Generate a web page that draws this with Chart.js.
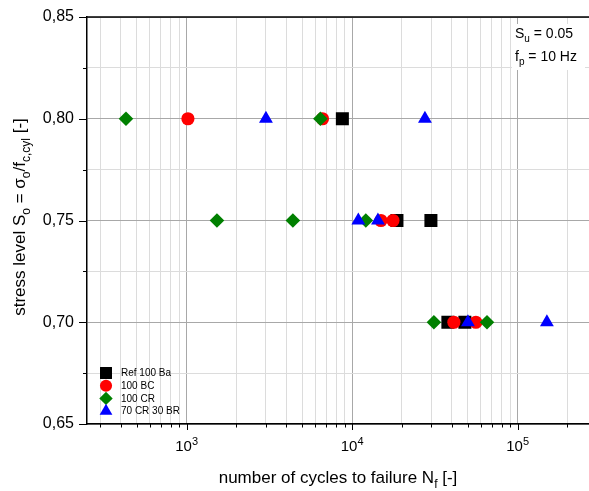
<!DOCTYPE html>
<html><head><meta charset="utf-8">
<script src="https://cdn.jsdelivr.net/npm/chart.js@4/dist/chart.umd.min.js"></script>
<style>html,body{margin:0;padding:0;background:#fff;overflow:hidden}</style>
</head><body>
<canvas id="c" width="589" height="491"></canvas>
<script>
// ---- data ----
const seriesNames = ['Ref 100 Ba', '100 BC', '100 CR', '70 CR 30 BR'];
const refBaCycles = [8730, 18660, 29930, 37900, 48000];
const refBaStress = [0.80, 0.75, 0.75, 0.70, 0.70];
const bcCycles = [1018, 6620, 14930, 17650, 41200, 55930];
const bcStress = [0.80, 0.80, 0.75, 0.75, 0.70, 0.70];
const crCycles = [430, 6430, 1525, 4385, 12100, 31200, 65300];
const crStress = [0.80, 0.80, 0.75, 0.75, 0.75, 0.70, 0.70];
const crbrCycles = [3015, 27540, 10900, 14320, 50100, 150300];
const crbrStress = [0.80, 0.80, 0.75, 0.75, 0.70, 0.70];

// ---- axes ----
const xGridValues = [300,400,500,600,700,800,900,1000,2000,3000,4000,5000,6000,7000,8000,9000,
  10000,20000,30000,40000,50000,60000,70000,80000,90000,100000,200000];
const xMajorValues = [1000, 10000, 100000];
const xMajorExponents = ['3', '4', '5'];
const yGridValues = [0.65,0.675,0.70,0.725,0.75,0.775,0.80,0.825,0.85];
const yTickLabels = ['0,65','','0,70','','0,75','','0,80','','0,85'];

const FONT = "Arial, 'Liberation Sans', sans-serif";
const colors = ['#000000', '#ff0000', '#008000', '#0000ff'];
const styles = ['rect', 'circle', 'rectRot', 'triangle'];
const radii = [9.2, 6.6, 7.3, 8];

function pts(xs, ys) { return xs.map((x, i) => ({x: x, y: ys[i]})); }
const allData = [pts(refBaCycles, refBaStress), pts(bcCycles, bcStress), pts(crCycles, crStress), pts(crbrCycles, crbrStress)];
const orders = [4, 3, 2, 1];

const datasets = seriesNames.map((n, i) => ({
  label: n, data: allData[i], backgroundColor: colors[i], borderColor: colors[i], borderWidth: 0,
  pointStyle: styles[i], pointRadius: radii[i], pointHoverRadius: radii[i], order: orders[i], showLine: false
}));

function isDecade(v) { const l = Math.log10(v); return Math.abs(l - Math.round(l)) < 1e-9; }
function isMajorY(v) { return Math.abs(v * 20 - Math.round(v * 20)) < 1e-6; }

function drawRich(ctx, segs, x, y, size, align) {
  const small = Math.round(size * 0.7);
  let total = 0;
  segs.forEach(s => { ctx.font = (s[1] ? small : size) + 'px ' + FONT; total += ctx.measureText(s[0]).width; });
  let cx = align === 'center' ? x - total / 2 : (align === 'right' ? x - total : x);
  ctx.textAlign = 'left'; ctx.textBaseline = 'alphabetic';
  segs.forEach(s => {
    ctx.font = (s[1] ? small : size) + 'px ' + FONT;
    const dy = s[1] === 1 ? size * 0.28 : (s[1] === 2 ? -size * 0.42 : 0);
    ctx.fillText(s[0], cx, y + dy);
    cx += ctx.measureText(s[0]).width;
  });
}

const decorPlugin = {
  id: 'decor',
  beforeDatasetsDraw(chart) {
    const ctx = chart.ctx, a = chart.chartArea, xs = chart.scales.x, ys = chart.scales.y;
    ctx.save();
    // annotation box background
    ctx.fillStyle = '#fff';
    ctx.fillRect(a.right - 77, a.top + 7, 73, 46);
    // tick marks
    ctx.strokeStyle = '#000'; ctx.lineWidth = 1;
    ctx.beginPath();
    xs.ticks.forEach(t => {
      const px = Math.round(xs.getPixelForValue(t.value)) + 0.5;
      const len = isDecade(t.value) ? 6 : 3.5;
      ctx.moveTo(px, a.bottom); ctx.lineTo(px, a.bottom + len);
    });
    ys.ticks.forEach(t => {
      const py = Math.round(ys.getPixelForValue(t.value)) + 0.5;
      const len = isMajorY(t.value) ? 8 : 4;
      ctx.moveTo(a.left, py); ctx.lineTo(a.left - len, py);
    });
    ctx.stroke();
    // top frame line
    ctx.lineWidth = 1.5;
    ctx.beginPath(); ctx.moveTo(a.left, a.top); ctx.lineTo(a.right, a.top); ctx.stroke();
    ctx.restore();
  },
  afterDraw(chart) {
    const ctx = chart.ctx, a = chart.chartArea, xs = chart.scales.x;
    ctx.save();
    ctx.fillStyle = '#000';
    // x tick labels 10^n
    xMajorValues.forEach((v, i) => {
      drawRich(ctx, [['10', 0], [xMajorExponents[i], 2]], xs.getPixelForValue(v), a.bottom + 27, 15, 'center');
    });
    // x title
    drawRich(ctx, [['number of cycles to failure N', 0], ['f', 1], [' [-]', 0]], 338, 483, 17, 'center');
    // y title
    ctx.save();
    ctx.translate(25, 217); ctx.rotate(-Math.PI / 2);
    drawRich(ctx, [['stress level S', 0], ['o', 1], [' = \u03c3', 0], ['o', 1], ['/f', 0], ['c,cyl', 1], [' [-]', 0]], 0, 0, 17, 'center');
    ctx.restore();
    // annotation
    drawRich(ctx, [['S', 0], ['u', 1], [' = 0.05', 0]], a.right - 74, a.top + 21, 14, 'left');
    drawRich(ctx, [['f', 0], ['p', 1], [' = 10 Hz', 0]], a.right - 74, a.top + 44, 14, 'left');
    // legend
    chart.data.datasets.forEach((ds, i) => {
      const ly = a.bottom - 51 + i * 12.7;
      ctx.fillStyle = ds.backgroundColor;
      Chart.helpers.drawPoint(ctx, {pointStyle: ds.pointStyle, radius: ds.pointRadius * 0.92, rotation: 0, borderWidth: 0}, a.left + 19, ly);
      ctx.fillStyle = '#000';
      ctx.font = '10px ' + FONT; ctx.textAlign = 'left'; ctx.textBaseline = 'middle';
      ctx.fillText(ds.label, a.left + 34, ly + 0.5);
    });
    ctx.restore();
  }
};

new Chart(document.getElementById('c'), {
  type: 'scatter',
  data: { datasets: datasets },
  plugins: [decorPlugin],
  options: {
    responsive: false, animation: false, devicePixelRatio: 1,
    layout: { padding: { top: 17, left: 0, right: 0, bottom: 0 }, autoPadding: false },
    plugins: { legend: { display: false }, tooltip: { enabled: false } },
    scales: {
      x: {
        type: 'logarithmic', min: 250, max: 270000, position: 'bottom',
        border: { color: '#000', width: 1.5 },
        grid: { color: c => (c.tick && isDecade(c.tick.value)) ? '#a8a8a8' : '#dcdcdc', lineWidth: 1, drawTicks: false },
        ticks: { display: false },
        afterBuildTicks: s => { s.ticks = xGridValues.map(v => ({ value: v })); },
        afterFit: s => { s.height = 67; s.paddingLeft = 0; s.paddingRight = 0; }
      },
      y: {
        type: 'linear', min: 0.65, max: 0.85, position: 'left',
        border: { color: '#000', width: 1.5 },
        grid: { color: c => (c.tick && isMajorY(c.tick.value)) ? '#a8a8a8' : '#dcdcdc', lineWidth: 1, drawTicks: false },
        ticks: {
          padding: 13, color: '#000', font: { size: 16, family: FONT },
          callback: (v) => { const i = yGridValues.findIndex(g => Math.abs(g - v) < 1e-6); return i >= 0 ? yTickLabels[i] : ''; }
        },
        afterBuildTicks: s => { s.ticks = yGridValues.map(v => ({ value: v })); },
        afterFit: s => { s.width = 87; s.paddingTop = 0; s.paddingBottom = 0; }
      }
    }
  }
});
</script>
</body></html>
